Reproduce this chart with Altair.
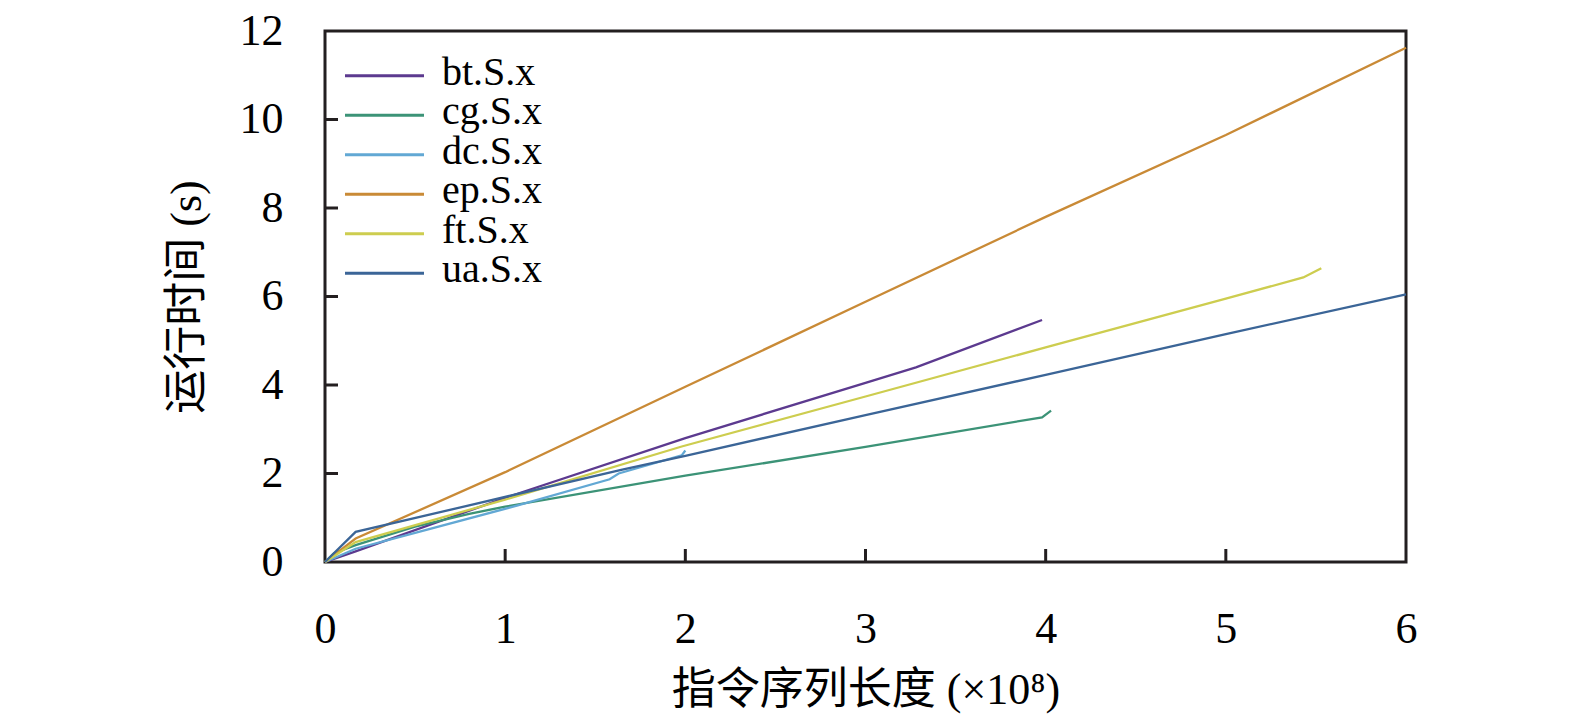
import pandas as pd
import altair as alt

# Data (x in units of 1e8 instructions, y in seconds)
series = ['bt.S.x', 'cg.S.x', 'dc.S.x', 'ep.S.x', 'ft.S.x', 'ua.S.x']
colors = ['#5c3a8f', '#3c9377', '#62a8d4', '#c98a36', '#cdcd4f', '#3b6597']

bt_x = [0, 0.17, 1.0, 2.0, 3.0, 3.28, 3.98]
bt_y = [0, 0.24, 1.45, 2.8, 4.05, 4.4, 5.47]
cg_x = [0, 0.05, 0.17, 0.5, 0.8, 1.0, 2.0, 3.0, 3.98, 4.03]
cg_y = [0, 0.2, 0.38, 0.8, 1.09, 1.25, 1.95, 2.6, 3.27, 3.42]
dc_x = [0, 0.17, 0.5, 1.07, 1.58, 1.63, 1.98, 2.0]
dc_y = [0, 0.3, 0.66, 1.28, 1.87, 2.0, 2.41, 2.52]
ep_x = [0, 0.17, 1.0, 2.0, 3.0, 4.0, 5.0, 6.0]
ep_y = [0, 0.53, 2.03, 3.96, 5.88, 7.8, 9.65, 11.62]
ft_x = [0, 0.17, 1.0, 1.98, 3.0, 4.0, 5.0, 5.43, 5.53]
ft_y = [0, 0.45, 1.41, 2.61, 3.74, 4.85, 5.95, 6.43, 6.64]
ua_x = [0, 0.17, 0.8, 1.65, 2.0, 3.0, 4.0, 5.0, 6.0]
ua_y = [0, 0.68, 1.28, 2.09, 2.4, 3.32, 4.23, 5.15, 6.05]

x_ticks = [0, 1, 2, 3, 4, 5, 6]
y_ticks = [0, 2, 4, 6, 8, 10, 12]

rows = []
for name, xs, ys in zip(series, [bt_x, cg_x, dc_x, ep_x, ft_x, ua_x],
                        [bt_y, cg_y, dc_y, ep_y, ft_y, ua_y]):
    for i, (a, b) in enumerate(zip(xs, ys)):
        rows.append({'series': name, 'i': i, 'x': a, 'y': b})
df = pd.DataFrame(rows)
legend_df = pd.DataFrame({'series': series, 'row': list(range(len(series)))})

W, H = 1081, 531
FONT = 'Liberation Serif, Noto Sans CJK SC'
INK = '#231f20'
color_scale = alt.Scale(domain=series, range=colors)

x_enc = alt.X('x:Q', scale=alt.Scale(domain=[0, 6], nice=False),
              axis=alt.Axis(values=x_ticks, format='d', title='指令序列长度 (×10⁸)',
                            ticks=False, domain=False, grid=False, labelFlush=False,
                            labelPadding=45, titlePadding=17))
y_enc = alt.Y('y:Q', scale=alt.Scale(domain=[0, 12], nice=False),
              axis=alt.Axis(values=y_ticks, format='d', title='运行时间 (s)',
                            ticks=False, domain=False, grid=False, labelFlush=False,
                            labelPadding=42, titlePadding=30))

lines = alt.Chart(df).mark_line(strokeWidth=2.3).encode(
    x=x_enc,
    y=y_enc,
    order='i:Q',
    color=alt.Color('series:N', scale=color_scale, legend=None),
)

# inward tick marks
xt = alt.Chart(pd.DataFrame({'x': x_ticks[1:-1]})).mark_rule(
    color=INK, strokeWidth=3).encode(
    x='x:Q', y=alt.value(H), y2=alt.value(H - 13))
yt = alt.Chart(pd.DataFrame({'y': y_ticks[1:-1]})).mark_rule(
    color=INK, strokeWidth=3).encode(
    y='y:Q', x=alt.value(0), x2=alt.value(13))

main = alt.layer(lines, xt, yt)

# legend drawn inside the plot, top-left
row_y = alt.Y('row:O', axis=None,
              scale=alt.Scale(type='point', padding=0, range=[44.7, 242.2]))
leg_sym = alt.Chart(legend_df).mark_rule(strokeWidth=3).encode(
    y=row_y, x=alt.value(20), x2=alt.value(99),
    color=alt.Color('series:N', scale=color_scale, legend=None))
leg_txt = alt.Chart(legend_df).mark_text(
    align='left', baseline='alphabetic', dy=9, fontSize=40, font=FONT,
    color='black').encode(y=row_y, x=alt.value(117), text='series:N')
legend = alt.layer(leg_sym, leg_txt)

chart = (
    alt.layer(main, legend)
    .resolve_scale(y='independent')
    .properties(width=W, height=H, background='white',
                padding={'left': 157, 'top': 1, 'right': 5, 'bottom': 5})
    .configure_view(stroke=INK, strokeWidth=3)
    .configure_axis(labelFont=FONT, titleFont=FONT, labelFontSize=44,
                    titleFontSize=44, labelColor='black', titleColor='black',
                    titleFontWeight='normal')
)

chart.save('out.html', embed_options={'renderer': 'svg', 'actions': False})
